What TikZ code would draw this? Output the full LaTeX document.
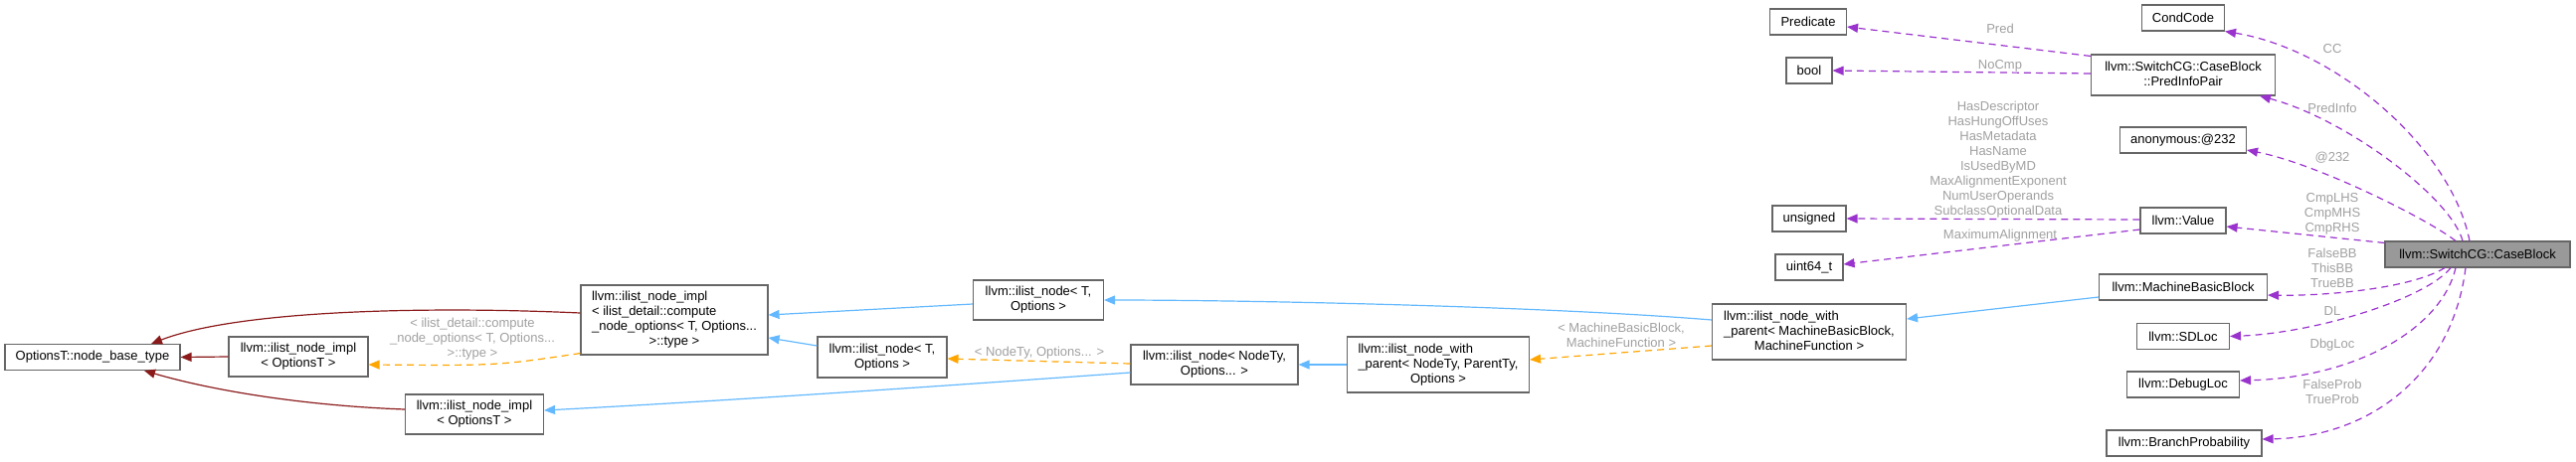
\documentclass[tikz,border=0pt]{standalone}
\usepackage{fontspec}
\setmainfont{Liberation Sans}
\usetikzlibrary{arrows.meta,positioning}

\definecolor{memberline}{HTML}{9A32CD}
\definecolor{tmplline}{HTML}{FFA500}
\definecolor{publine}{HTML}{63B8FF}
\definecolor{privline}{HTML}{8B1A1A}
\definecolor{edgelabel}{HTML}{A0A0A0}
\definecolor{boxborder}{HTML}{666666}
\definecolor{focusfill}{HTML}{999999}

% last line of a class box is centred, the others flush left
\newcommand{\lastmid}[2]{\begin{tabular}{@{}l@{}}#1\\\multicolumn{1}{@{}c@{}}{#2}\end{tabular}}

\begin{document}
\begin{tikzpicture}[
  x=1pt, y=-1pt,
  cls/.style={rectangle, draw=boxborder, fill=white, line width=1.1pt,
              inner sep=2pt, minimum height=26, font=\fontsize{13}{15}\selectfont},
  lbl/.style={text=edgelabel, align=center, inner sep=0pt,
              font=\fontsize{13}{15}\selectfont},
  link/.style={line width=1.2pt, -{Triangle[length=11pt,width=9pt]}},
  member/.style={link, draw=memberline, dash pattern=on 7pt off 5pt},
  tmpl/.style={link, draw=tmplline, dash pattern=on 7pt off 5pt},
  pub/.style={link, draw=publine},
  priv/.style={link, draw=privline},
]
  \useasboundingbox (0,0) rectangle (2590,464);

  % inheritance chain
  \node[cls, minimum width=176] (base) at (93,359.5) {OptionsT::node\_base\_type};
  \node[cls, minimum width=140, minimum height=40] (implopt) at (300,359) {\lastmid{llvm::ilist\_node\_impl}{< OptionsT >}};
  \node[cls, minimum width=139, minimum height=40] (implopt2) at (477,417) {\lastmid{llvm::ilist\_node\_impl}{< OptionsT >}};
  \node[cls, minimum width=188, minimum height=70] (impldetail) at (678,322) {\lastmid{llvm::ilist\_node\_impl\\< ilist\_detail::compute\\\_node\_options< T, Options...}{>::type >}};
  \node[cls, minimum width=131, minimum height=40] (nodeT) at (1044,302) {\lastmid{llvm::ilist\_node< T,}{Options >}};
  \node[cls, minimum width=130, minimum height=41] (nodeT2) at (887,359.5) {\lastmid{llvm::ilist\_node< T,}{Options >}};
  \node[cls, minimum width=168, minimum height=40] (nodeNT) at (1221,367) {\lastmid{llvm::ilist\_node< NodeTy,}{Options... >}};
  \node[cls, minimum width=183, minimum height=56] (parentNT) at (1446,367) {\lastmid{llvm::ilist\_node\_with\\\_parent< NodeTy, ParentTy,}{Options >}};
  \node[cls, minimum width=195, minimum height=56] (parentMBB) at (1819,334) {\lastmid{llvm::ilist\_node\_with\\\_parent< MachineBasicBlock,}{MachineFunction >}};

  % member types
  \node[cls, minimum width=77] (predicate) at (1818,22) {Predicate};
  \node[cls, minimum width=46] (bool) at (1819,71) {bool};
  \node[cls, minimum width=74] (unsigned) at (1819,220) {unsigned};
  \node[cls, minimum width=68] (uint64) at (1819,269) {uint64\_t};
  \node[cls, minimum width=83] (condcode) at (2195,18) {CondCode};
  \node[cls, minimum width=185, minimum height=41] (predinfo) at (2195,75.5) {\lastmid{llvm::SwitchCG::CaseBlock}{::PredInfoPair}};
  \node[cls, minimum width=127] (anon) at (2195,141) {anonymous:@232};
  \node[cls, minimum width=86] (value) at (2195,222) {llvm::Value};
  \node[cls, minimum width=169] (mbb) at (2195,289) {llvm::MachineBasicBlock};
  \node[cls, minimum width=93] (sdloc) at (2195,338.5) {llvm::SDLoc};
  \node[cls, minimum width=113] (debugloc) at (2195,387) {llvm::DebugLoc};
  \node[cls, minimum width=156] (branchprob) at (2196,446) {llvm::BranchProbability};
  \node[cls, minimum width=186, fill=focusfill] (caseblock) at (2491,256) {llvm::SwitchCG::CaseBlock};

  % CaseBlock members
  \draw[member] ([xshift=-8pt]caseblock.north) .. controls (2465,150) and (2350,50) .. (condcode.south east);
  \draw[member] ([xshift=-15pt]caseblock.north) .. controls (2465,200) and (2360,120) .. ([xshift=77pt]predinfo.south);
  \draw[member] ([xshift=-22pt]caseblock.north) .. controls (2440,220) and (2330,165) .. ([yshift=-10pt]anon.east);
  \draw[member] ([yshift=-2pt]caseblock.north west) -- ([yshift=-6pt]value.east);
  \draw[member] ([xshift=-33pt]caseblock.south) .. controls (2425,290) and (2340,298) .. ([yshift=-8pt]mbb.east);
  \draw[member] ([xshift=-27pt]caseblock.south) .. controls (2440,300) and (2330,335) .. (sdloc.east);
  \draw[member] ([xshift=-22pt]caseblock.south) .. controls (2455,330) and (2370,380) .. ([yshift=4pt]debugloc.east);
  \draw[member] ([xshift=-12pt]caseblock.south) .. controls (2465,380) and (2380,440) .. ([yshift=4pt]branchprob.east);
  \draw[member] ([yshift=-2pt]predinfo.north west) -- ([yshift=-5pt]predicate.east);
  \draw[member] ([yshift=1.5pt]predinfo.west) -- (bool.east);
  \draw[member] ([yshift=1pt]value.west) -- (unsigned.east);
  \draw[member] ([yshift=-9pt]value.west) -- ([yshift=3pt]uint64.east);

  \node[lbl] (lcc) at (2345,49) {CC};
  \node[lbl] (lpredinfo) at (2345,109) {PredInfo};
  \node[lbl] (lanon) at (2345,159) {@232};
  \node[lbl] (lcmp) at (2345,215) {CmpLHS\\CmpMHS\\CmpRHS};
  \node[lbl] (lbb) at (2345,270) {FalseBB\\ThisBB\\TrueBB};
  \node[lbl] (ldl) at (2345,313) {DL};
  \node[lbl] (ldbg) at (2345,347) {DbgLoc};
  \node[lbl] (lprob) at (2345,394.5) {FalseProb\\TrueProb};
  \node[lbl] (lpred) at (2011,29) {Pred};
  \node[lbl] (lnocmp) at (2011,66) {NoCmp};
  \node[lbl] (lflags) at (2009,161) {HasDescriptor\\HasHungOffUses\\HasMetadata\\HasName\\IsUsedByMD\\MaxAlignmentExponent\\NumUserOperands\\SubclassOptionalData};
  \node[lbl] (lmaxalign) at (2011,237) {MaximumAlignment};

  % base classes
  \draw[pub] ([yshift=-10pt]mbb.west) -- ([yshift=13pt]parentMBB.east);
  \draw[pub] ([yshift=12pt]parentMBB.west) .. controls (1550,308) and (1250,302) .. (nodeT.east);
  \draw[tmpl] ([yshift=-14pt]parentMBB.west) -- ([yshift=5pt]parentNT.east);
  \draw[pub] (parentNT.west) -- (nodeNT.east);
  \draw[tmpl] ([yshift=1pt]nodeNT.west) -- ([yshift=-1.5pt]nodeT2.east);
  \draw[pub] ([yshift=-8pt]nodeNT.west) .. controls (900,392) and (700,405) .. ([yshift=4pt]implopt2.east);
  \draw[pub] ([yshift=-4pt]nodeT.west) -- ([yshift=5pt]impldetail.east);
  \draw[pub] ([yshift=11.5pt]nodeT2.west) -- ([yshift=-18pt]impldetail.east);
  \draw[tmpl] ([yshift=2pt]impldetail.south west) .. controls (500,368) .. ([yshift=-8pt]implopt.east);
  \draw[priv] ([yshift=7pt]impldetail.west) .. controls (430,308) and (240,312) .. ([xshift=59pt]base.north);
  \draw[priv] (implopt.west) -- (base.east);
  \draw[priv] ([yshift=5pt]implopt2.west) .. controls (300,408) and (210,392) .. ([xshift=52pt]base.south);

  \node[lbl] (lmbbparent) at (1630,337) {< MachineBasicBlock,\\MachineFunction >};
  \node[lbl] (lnodety) at (1045,355) {< NodeTy, Options... >};
  \node[lbl] (ldetail) at (475,341) {< ilist\_detail::compute\\\_node\_options< T, Options...\\>::type >};
\end{tikzpicture}
\end{document}
